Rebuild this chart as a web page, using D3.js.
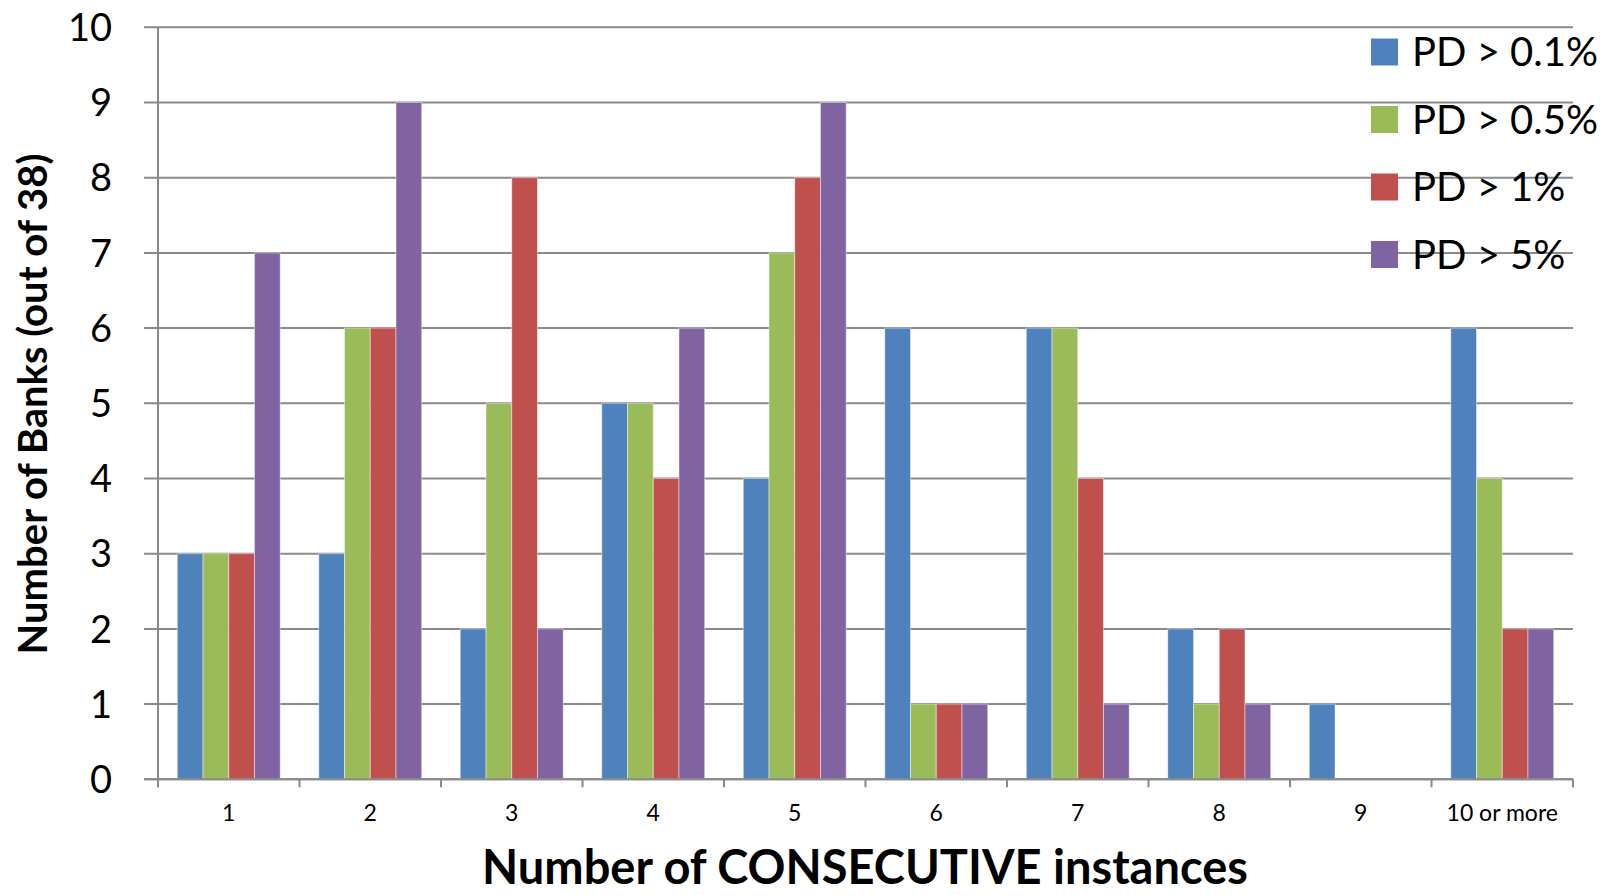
<!DOCTYPE html>
<html><head><meta charset="utf-8">
<script src="https://cdn.jsdelivr.net/npm/d3@7"></script>
<style>body{margin:0;background:#fff}svg{display:block}text{font-family:Lato,"Open Sans",sans-serif}</style>
</head><body><svg id="c" width="1614" height="895"></svg>
<script>
const categories = ["1","2","3","4","5","6","7","8","9","10 or more"];
const seriesNames = ["PD > 0.1%","PD > 0.5%","PD > 1%","PD > 5%"];
const pd01 = [3,3,2,5,4,6,6,2,1,6];
const pd05 = [3,6,5,5,7,1,6,1,0,4];
const pd1  = [3,6,8,4,8,1,4,2,0,2];
const pd5  = [7,9,2,6,9,1,1,1,0,2];
const colors = ["#4F81BD","#9BBB59","#C0504D","#8064A2"];
const yTicks = [0,1,2,3,4,5,6,7,8,9,10];
const seriesValues = [pd01,pd05,pd1,pd5];

const svg = d3.select("#c");
const L=158, R=1573, T=27.3, B=779.3;
const x0 = d3.scaleBand().domain(categories).range([L,R]).padding(0);
const x1 = d3.scaleBand().domain(seriesNames).range([0,x0.bandwidth()]).paddingInner(0).paddingOuter(0.75);
const y = d3.scaleLinear().domain([0,10]).range([B,T]);
const grid = "#8a8a8a";

// gridlines
svg.append("g").selectAll("line").data(yTicks).join("line")
  .attr("x1",144).attr("x2",R).attr("y1",d=>y(d)).attr("y2",d=>y(d))
  .attr("stroke",grid).attr("stroke-width",2);

// bars
const data = [];
categories.forEach((c,i)=>seriesNames.forEach((s,j)=>data.push({c,s,j,v:seriesValues[j][i]})));
svg.append("g").selectAll("rect").data(data.filter(d=>d.v>0)).join("rect")
  .attr("x",d=>x0(d.c)+x1(d.s)).attr("width",x1.bandwidth())
  .attr("y",d=>y(d.v)).attr("height",d=>y(0)-y(d.v))
  .attr("fill",d=>colors[d.j]).attr("stroke","rgba(255,255,255,0.45)").attr("stroke-width",1);

// y axis line
svg.append("line").attr("x1",L).attr("x2",L).attr("y1",T).attr("y2",B+8).attr("stroke",grid).attr("stroke-width",2);
// x axis line
svg.append("line").attr("x1",144).attr("x2",R).attr("y1",B).attr("y2",B).attr("stroke",grid).attr("stroke-width",2);
// x ticks at category boundaries
const bounds = categories.map(c=>x0(c)).concat([R]);
svg.append("g").selectAll("line").data(bounds).join("line")
  .attr("x1",d=>d).attr("x2",d=>d).attr("y1",B).attr("y2",B+8)
  .attr("stroke",grid).attr("stroke-width",2);

// y tick labels
svg.append("g").selectAll("text").data(yTicks).join("text")
  .attr("x",112).attr("y",d=>y(d)).attr("dy","0.36em").attr("text-anchor","end")
  .attr("font-size",38).attr("fill","#000").text(d=>d);

// x tick labels
svg.append("g").selectAll("text").data(categories).join("text")
  .attr("x",d=>x0(d)+x0.bandwidth()/2).attr("y",813).attr("dy","0.36em").attr("text-anchor","middle")
  .attr("font-size",23).attr("fill","#000").text(d=>d);

// axis titles
svg.append("text").attr("x",865).attr("y",884).attr("text-anchor","middle")
  .attr("font-size",47).attr("font-weight","bold").text("Number of CONSECUTIVE instances");
svg.append("text").attr("transform","translate(33,404) rotate(-90)").attr("dy","0.36em").attr("text-anchor","middle")
  .attr("font-size",40).attr("font-weight","bold").text("Number of Banks (out of 38)");

// legend
const lg = svg.append("g").selectAll("g").data(seriesNames).join("g")
  .attr("transform",(d,i)=>`translate(1371,${52+i*67.5})`);
lg.append("rect").attr("x",0).attr("y",-13.5).attr("width",27).attr("height",27).attr("fill",(d,i)=>colors[i]);
lg.append("text").attr("x",41).attr("y",0).attr("dy","0.36em").attr("font-size",40).text(d=>d);
</script></body></html>
